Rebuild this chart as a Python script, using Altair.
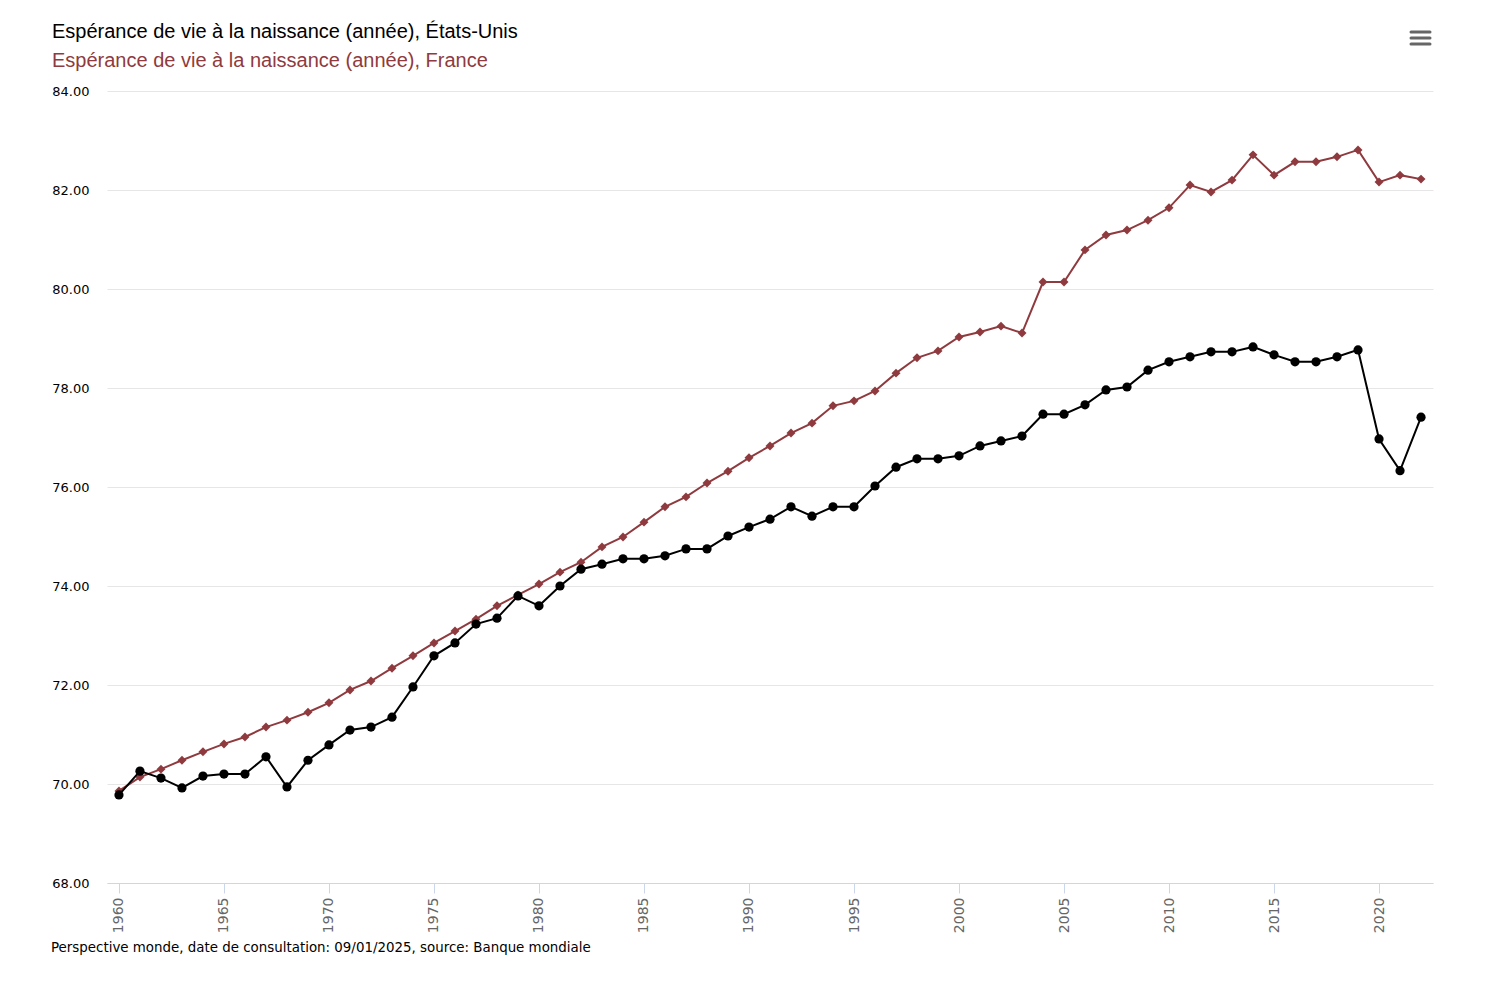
import altair as alt
import pandas as pd

years = list(range(1960, 2023))

usa = [69.78, 70.26, 70.12, 69.92, 70.16, 70.20, 70.20, 70.55, 69.94, 70.48,
       70.79, 71.09, 71.15, 71.35, 71.96, 72.59, 72.85, 73.23, 73.35, 73.80,
       73.60, 74.00, 74.34, 74.44, 74.55, 74.55, 74.61, 74.75, 74.75, 75.01,
       75.19, 75.35, 75.60, 75.41, 75.60, 75.60, 76.02, 76.40, 76.57, 76.57,
       76.63, 76.83, 76.93, 77.03, 77.47, 77.47, 77.66, 77.96, 78.02, 78.36,
       78.53, 78.63, 78.73, 78.73, 78.83, 78.67, 78.53, 78.53, 78.63, 78.77,
       76.97, 76.33, 77.41]

france = [69.86, 70.14, 70.30, 70.48, 70.65, 70.81, 70.95, 71.15, 71.29, 71.45,
          71.64, 71.90, 72.08, 72.34, 72.59, 72.85, 73.09, 73.33, 73.60, 73.82,
          74.04, 74.28, 74.48, 74.79, 74.99, 75.29, 75.60, 75.80, 76.08, 76.32,
          76.59, 76.83, 77.09, 77.29, 77.64, 77.74, 77.94, 78.30, 78.61, 78.75,
          79.03, 79.13, 79.25, 79.11, 80.14, 80.14, 80.79, 81.09, 81.19, 81.39,
          81.64, 82.10, 81.96, 82.20, 82.71, 82.30, 82.57, 82.57, 82.67, 82.81,
          82.16, 82.30, 82.22]

title_usa = "Espérance de vie à la naissance (année), États-Unis"
title_fr = "Espérance de vie à la naissance (année), France"
footer = "Perspective monde, date de consultation: 09/01/2025, source: Banque mondiale"

x_ticks = list(range(1960, 2021, 5))
y_ticks = list(range(68, 85, 2))

RED = "#8f3a3e"
W, H = 1326, 792

df_us = pd.DataFrame({"annee": years, "valeur": usa})
df_fr = pd.DataFrame({"annee": years, "valeur": france})

x_enc = alt.X("annee:Q",
              scale=alt.Scale(domain=[1959.43, 2022.57], nice=False, zero=False),
              axis=alt.Axis(values=x_ticks, format="d", labelAngle=270, grid=False,
                            title=None, domainColor="#ccd6eb", tickColor="#ccd6eb",
                            tickSize=10, labelFont="DejaVu Sans", labelFontSize=14,
                            labelColor="#666666", labelPadding=4))
y_enc = alt.Y("valeur:Q",
              scale=alt.Scale(domain=[68, 84], nice=False, zero=False),
              axis=alt.Axis(values=y_ticks, format=".2f", grid=True, gridColor="#e6e6e6",
                            domain=False, ticks=False, title=None,
                            labelFont="DejaVu Sans", labelFontSize=13,
                            labelColor="#000000", labelPadding=18))

fr_line = alt.Chart(df_fr).mark_line(color=RED, strokeWidth=2).encode(x=x_enc, y=y_enc)
fr_pts = alt.Chart(df_fr).mark_point(shape="diamond", filled=True, color=RED, size=80,
                                     opacity=1).encode(x="annee:Q", y="valeur:Q")
us_line = alt.Chart(df_us).mark_line(color="#000000", strokeWidth=2).encode(x="annee:Q", y="valeur:Q")
us_pts = alt.Chart(df_us).mark_point(shape="circle", filled=True, color="#000000", size=85,
                                     opacity=1).encode(x="annee:Q", y="valeur:Q")

one = pd.DataFrame({"k": [0]})
t1 = alt.Chart(one).mark_text(text=title_usa, align="left", baseline="middle",
                              font="Liberation Sans", fontSize=20, color="#000000").encode(
    x=alt.value(-55), y=alt.value(-59))
t2 = alt.Chart(one).mark_text(text=title_fr, align="left", baseline="middle",
                              font="Liberation Sans", fontSize=20, color=RED).encode(
    x=alt.value(-55), y=alt.value(-30))
foot = alt.Chart(one).mark_text(text=footer, align="left", baseline="middle",
                                font="DejaVu Sans", fontSize=13.4, color="#000000").encode(
    x=alt.value(-56), y=alt.value(857))

menu = [alt.Chart(one).mark_rule(color="#666666", strokeWidth=3, strokeCap="round").encode(
    x=alt.value(1304), x2=alt.value(1323), y=alt.value(yy)) for yy in (-59, -53, -47)]

chart = alt.layer(fr_line, fr_pts, us_line, us_pts, t1, t2, foot, *menu).properties(
    width=W, height=H,
    autosize=alt.AutoSizeParams(type="none"),
    padding={"left": 99, "top": 83, "right": 60, "bottom": 90},
).configure_view(stroke=None)

chart.save("out.html", embed_options={"renderer": "svg", "actions": False})
